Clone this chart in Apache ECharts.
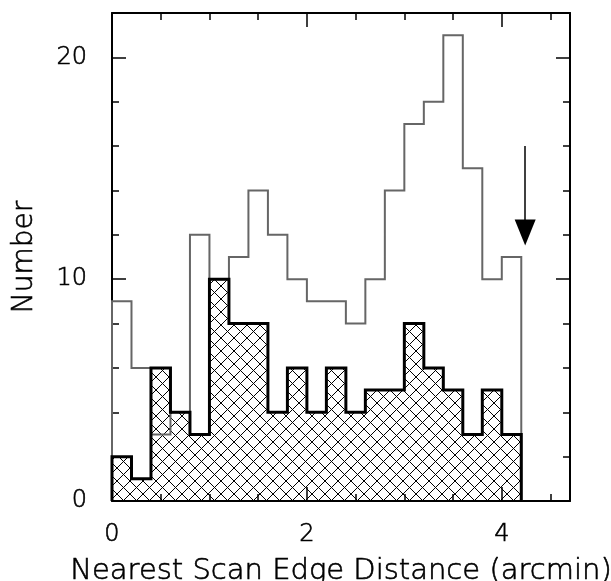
<!DOCTYPE html>
<html><head><meta charset="utf-8">
<script src="https://cdn.jsdelivr.net/npm/echarts@6/dist/echarts.min.js"></script>
<style>html,body{margin:0;padding:0;background:#fff}#c{width:611px;height:581px}</style>
</head><body><div id="c"></div>
<script>
// ---- data ----
const binEdges = [0,0.2,0.4,0.6,0.8,1.0,1.2,1.4,1.6,1.8,2.0,2.2,2.4,2.6,2.8,3.0,3.2,3.4,3.6,3.8,4.0,4.2];
const totalCounts  = [9,6,3,4,12,10,11,14,12,10,9,9,8,10,14,17,18,21,15,10,11];
const subsetCounts = [2,1,6,4,3,10,8,8,4,6,4,6,4,5,5,8,6,5,3,5,3];
const xMajorTicks = [0,2,4];
const xMinorTicks = [0.5,1,1.5,2.5,3,3.5,4.5];
const yMajorTicks = [0,10,20];
const yMinorTicks = [2,4,6,8,12,14,16,18];
const xRange = [0,4.7];
const yRange = [0,22];
const arrowX = 4.24, arrowFrom = 16, arrowTo = 12.1;
const xTitle = 'Nearest Scan Edge Distance (arcmin)';
const yTitle = 'Number';

// ---- helpers ----
function stepPoints(edges, vals){
  const pts=[[edges[0],0]];
  for(let i=0;i<vals.length;i++){ pts.push([edges[i],vals[i]]); pts.push([edges[i+1],vals[i]]); }
  pts.push([edges[vals.length],0]);
  return pts;
}
function hatch(p){
  const c=document.createElement('canvas'); c.width=p; c.height=p;
  const g=c.getContext('2d'); g.strokeStyle='#000'; g.lineWidth=1;
  g.beginPath(); g.moveTo(-1,-1); g.lineTo(p+1,p+1); g.moveTo(p+1,-1); g.lineTo(-1,p+1); g.stroke();
  return c;
}
const FONT='DejaVu Sans';
const TXT={color:'#000',fontFamily:FONT,fontWeight:200,textBorderColor:'#000',textBorderWidth:0.6};
const tickStyle={color:'#000',width:1.5};
function xAx(pos, major, withLine, withLabel){
  const a={type:'value',min:xRange[0],max:xRange[1],position:pos,
    axisLine:{show:withLine,onZero:false,lineStyle:{color:'#000',width:2}},
    axisTick:{show:true,inside:true,length:major?14:7,customValues:major?xMajorTicks:xMinorTicks,lineStyle:tickStyle},
    axisLabel:Object.assign({show:withLabel,customValues:xMajorTicks,fontSize:24,margin:22},TXT),
    splitLine:{show:false}};
  if(withLabel){Object.assign(a,{name:xTitle,nameLocation:'middle',nameGap:56,nameTextStyle:Object.assign({fontSize:29},TXT)});}
  return a;
}
function yAx(pos, major, withLine, withLabel){
  const a={type:'value',min:yRange[0],max:yRange[1],position:pos,
    axisLine:{show:withLine,onZero:false,lineStyle:{color:'#000',width:2}},
    axisTick:{show:true,inside:true,length:major?14:7,customValues:major?yMajorTicks:yMinorTicks,lineStyle:tickStyle},
    axisLabel:Object.assign({show:withLabel,customValues:yMajorTicks,fontSize:24,margin:25},TXT),
    splitLine:{show:false}};
  if(withLabel){Object.assign(a,{name:yTitle,nameLocation:'middle',nameGap:73,nameRotate:90,nameTextStyle:Object.assign({fontSize:28},TXT)});}
  return a;
}
const chart=echarts.init(document.getElementById('c'),null,{renderer:'canvas'});
chart.setOption({
  animation:false,
  backgroundColor:'#fff',
  grid:{left:112,right:41,top:13,bottom:80,containLabel:false,outerBoundsMode:'none'},
  xAxis:[xAx('bottom',true,true,true),xAx('bottom',false,false,false),xAx('top',true,true,false),xAx('top',false,false,false)],
  yAxis:[yAx('left',true,true,true),yAx('left',false,false,false),yAx('right',true,true,false),yAx('right',false,false,false)],
  series:[
    {type:'line',xAxisIndex:0,yAxisIndex:0,data:stepPoints(binEdges,subsetCounts),symbol:'none',z:1,
      lineStyle:{width:0,opacity:0},areaStyle:{color:{image:hatch(13),repeat:'repeat'},opacity:1}},
    {type:'line',xAxisIndex:0,yAxisIndex:0,data:stepPoints(binEdges,totalCounts),symbol:'none',z:2,
      lineStyle:{color:'#666',width:2,join:'miter'}},
    {type:'line',xAxisIndex:0,yAxisIndex:0,data:stepPoints(binEdges,subsetCounts),symbol:'none',z:3,
      lineStyle:{color:'#000',width:3,join:'miter'}},
    {type:'line',xAxisIndex:0,yAxisIndex:0,data:[],z:4,
      markLine:{silent:true,symbol:['none','triangle'],symbolSize:[21,26],animation:false,
        lineStyle:{color:'#000',width:1.5,type:'solid'},label:{show:false},
        data:[[{coord:[arrowX,arrowFrom]},{coord:[arrowX,arrowTo]}]]}}
  ]
});
</script></body></html>
